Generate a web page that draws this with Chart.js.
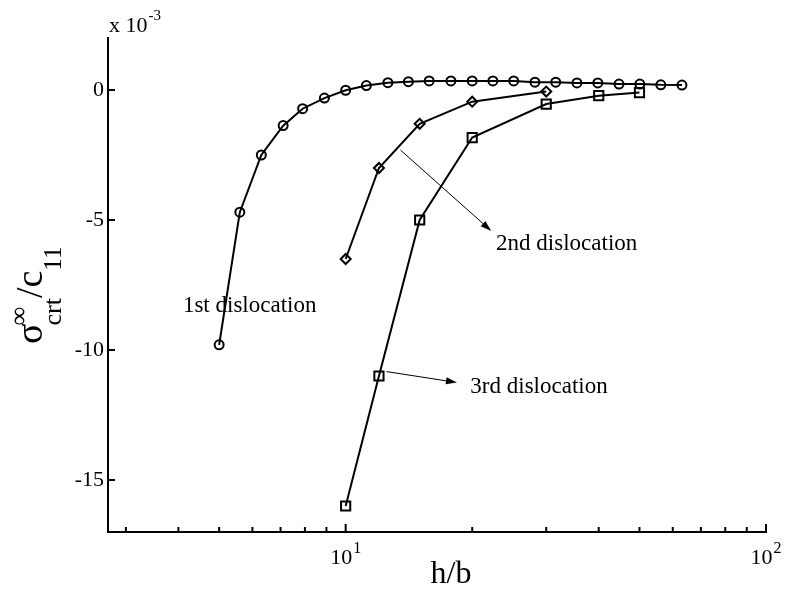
<!DOCTYPE html>
<html>
<head>
<meta charset="utf-8">
<script src="https://cdn.jsdelivr.net/npm/chart.js@4"></script>
<style>
  html, body { margin: 0; padding: 0; background: #fff; }
  #wrap { width: 786px; height: 595px; }
</style>
</head>
<body>
<div id="wrap"><canvas id="chart" width="786" height="595"></canvas></div>
<script>
// 1st dislocation (circles)
const hb1 = [5, 5.6, 6.3, 7.1, 7.9, 8.9, 10, 11.2, 12.6, 14.1, 15.8, 17.8, 20, 22.4, 25.1, 28.2, 31.6, 35.5, 39.8, 44.7, 50.1, 56.2, 63.1];
const sig1 = [-9.8, -4.7, -2.5, -1.37, -0.72, -0.31, -0.01, 0.17, 0.28, 0.32, 0.35, 0.35, 0.35, 0.35, 0.35, 0.30, 0.30, 0.27, 0.27, 0.23, 0.23, 0.20, 0.19];
// 2nd dislocation (diamonds)
const hb2 = [10, 12, 15, 20, 30];
const sig2 = [-6.5, -3.0, -1.3, -0.45, -0.06];
// 3rd dislocation (squares)
const hb3 = [10, 12, 15, 20, 30, 40, 50];
const sig3 = [-16.0, -11.0, -5.0, -1.83, -0.54, -0.22, -0.1];

const yTicks = [-15, -10, -5, 0];
const xMajor = [10, 100];
const xMajorExp = ['1', '2'];
const xMinor = [3, 4, 5, 6, 7, 8, 9, 20, 30, 40, 50, 60, 70, 80, 90];

// annotation anchors, in data units
const notes = [
  { text: '1st dislocation', at: [4.1, -8.52] },
  { text: '2nd dislocation', at: [22.8, -6.17], from: [13.5, -2.31], to: [22.2, -5.42] },
  { text: '3rd dislocation', at: [19.8, -11.65], from: [12.5, -10.83], to: [18.4, -11.25] },
];

const SERIF = '"Liberation Serif", "Times New Roman", serif';

function pts(xs, ys) {
  return xs.map((x, i) => ({ x, y: ys[i] }));
}

function arrow(ctx, x0, y0, x1, y1) {
  const a = Math.atan2(y1 - y0, x1 - x0);
  const len = 11, hw = 3.5;
  ctx.beginPath();
  ctx.moveTo(x0, y0);
  ctx.lineTo(x1 - len * Math.cos(a), y1 - len * Math.sin(a));
  ctx.stroke();
  ctx.beginPath();
  ctx.moveTo(x1, y1);
  ctx.lineTo(x1 - len * Math.cos(a) + hw * Math.sin(a), y1 - len * Math.sin(a) - hw * Math.cos(a));
  ctx.lineTo(x1 - len * Math.cos(a) - hw * Math.sin(a), y1 - len * Math.sin(a) + hw * Math.cos(a));
  ctx.closePath();
  ctx.fill();
}

const decor = {
  id: 'decor',
  afterDraw(c) {
    const ctx = c.ctx;
    const xs = c.scales.x, ys = c.scales.y;
    const area = c.chartArea;
    ctx.save();
    ctx.strokeStyle = '#000';
    ctx.fillStyle = '#000';

    // inward tick marks
    ctx.lineWidth = 2;
    yTicks.forEach(v => {
      const y = ys.getPixelForValue(v);
      ctx.beginPath();
      ctx.moveTo(area.left, y);
      ctx.lineTo(area.left + 7, y);
      ctx.stroke();
    });
    xMajor.forEach(v => {
      const x = xs.getPixelForValue(v);
      ctx.beginPath();
      ctx.moveTo(x, area.bottom);
      ctx.lineTo(x, area.bottom - 8);
      ctx.stroke();
    });
    xMinor.forEach(v => {
      const x = xs.getPixelForValue(v);
      ctx.beginPath();
      ctx.moveTo(x, area.bottom);
      ctx.lineTo(x, area.bottom - 5);
      ctx.stroke();
    });

    // x tick labels 10^n
    ctx.textBaseline = 'alphabetic';
    ctx.textAlign = 'left';
    xMajor.forEach((v, i) => {
      const x = xs.getPixelForValue(v);
      ctx.font = '22px ' + SERIF;
      const wb = ctx.measureText('10').width;
      ctx.font = '16px ' + SERIF;
      const we = ctx.measureText(xMajorExp[i]).width;
      const x0 = x - (wb + we + 1) / 2;
      ctx.font = '22px ' + SERIF;
      ctx.fillText('10', x0, area.bottom + 32);
      ctx.font = '16px ' + SERIF;
      ctx.fillText(xMajorExp[i], x0 + wb + 1, area.bottom + 21);
    });

    // axis multiplier
    ctx.font = '22px ' + SERIF;
    ctx.fillText('x 10', area.left + 1, area.top - 6);
    const wm = ctx.measureText('x 10').width;
    ctx.font = '15px ' + SERIF;
    ctx.fillText('-3', area.left + 2 + wm, area.top - 18);

    // x title
    ctx.font = '32px ' + SERIF;
    ctx.textAlign = 'center';
    ctx.fillText('h/b', 451, area.bottom + 51);

    // y title, rotated
    ctx.save();
    ctx.translate(42, 344);
    ctx.rotate(-Math.PI / 2);
    ctx.textAlign = 'left';
    let px = 0;
    ctx.font = '38px ' + SERIF;
    ctx.fillText('σ', px, 0);
    px += ctx.measureText('σ').width - 2;
    ctx.font = '26px ' + SERIF;
    ctx.textBaseline = 'middle';
    ctx.fillText('∞', px, -22);
    const wInf = ctx.measureText('∞').width;
    ctx.textBaseline = 'alphabetic';
    ctx.fillText('crt', px, 19);
    px += Math.max(wInf, ctx.measureText('crt').width);
    ctx.font = '38px ' + SERIF;
    ctx.fillText('/c', px, 0);
    px += ctx.measureText('/c').width;
    ctx.font = '25px ' + SERIF;
    ctx.fillText('11', px, 19);
    ctx.restore();

    // annotations
    ctx.font = '23px ' + SERIF;
    ctx.textAlign = 'left';
    ctx.textBaseline = 'alphabetic';
    ctx.lineWidth = 1;
    notes.forEach(n => {
      ctx.fillText(n.text, xs.getPixelForValue(n.at[0]), ys.getPixelForValue(n.at[1]));
      if (n.from) {
        arrow(ctx,
          xs.getPixelForValue(n.from[0]), ys.getPixelForValue(n.from[1]),
          xs.getPixelForValue(n.to[0]), ys.getPixelForValue(n.to[1]));
      }
    });
    ctx.restore();
  }
};

const base = {
  showLine: true,
  borderColor: '#000',
  backgroundColor: 'rgba(0,0,0,0)',
  borderWidth: 2,
  pointBorderColor: '#000',
  pointBackgroundColor: 'rgba(0,0,0,0)',
  pointBorderWidth: 2,
  tension: 0,
};

new Chart(document.getElementById('chart'), {
  type: 'scatter',
  data: {
    datasets: [
      { ...base, label: '1st dislocation', data: pts(hb1, sig1), pointStyle: 'circle', pointRadius: 4.5 },
      { ...base, label: '2nd dislocation', data: pts(hb2, sig2), pointStyle: 'rectRot', pointRadius: 5 },
      { ...base, label: '3rd dislocation', data: pts(hb3, sig3), pointStyle: 'rect', pointRadius: 6.5 },
    ],
  },
  options: {
    responsive: false,
    animation: false,
    events: [],
    layout: { padding: { top: 38, right: 20, left: 0, bottom: 0 } },
    plugins: { legend: { display: false }, tooltip: { enabled: false } },
    scales: {
      x: {
        type: 'logarithmic',
        min: 2.72,
        max: 100,
        grid: { display: false, drawTicks: false },
        border: { display: true, color: '#000', width: 2 },
        ticks: { display: false },
        afterFit: s => { s.height = 63; },
      },
      y: {
        min: -17,
        max: 2,
        grid: { display: false, drawTicks: false },
        border: { display: true, color: '#000', width: 2 },
        afterBuildTicks: s => { s.ticks = yTicks.map(v => ({ value: v })); },
        ticks: {
          color: '#000',
          padding: 4,
          font: { family: SERIF, size: 22 },
          callback: v => String(v),
        },
        afterFit: s => { s.width = 108; },
      },
    },
  },
  plugins: [decor],
});
</script>
</body>
</html>
